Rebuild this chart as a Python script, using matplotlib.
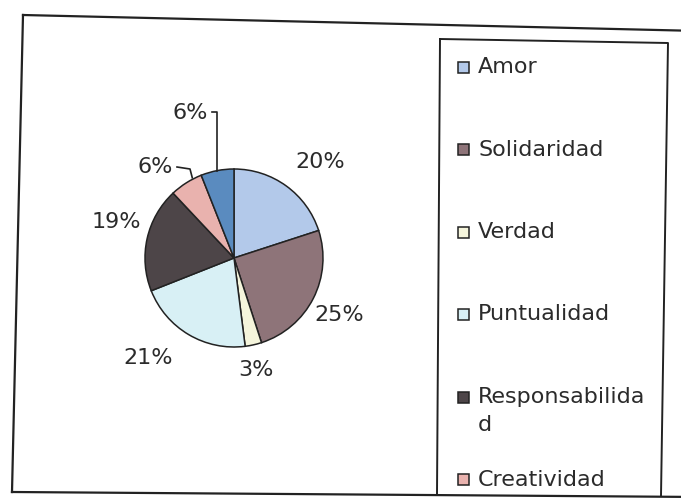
""" Pie chart of values (Amor, Solidaridad, ...) with an Excel-like side legend. """
import numpy as np
import matplotlib.pyplot as plt
from matplotlib.patches import Rectangle

plt.rcParams['font.family'] = ['DejaVu Sans']

# data
categories = ['Amor', 'Solidaridad', 'Verdad', 'Puntualidad',
              'Responsabilidad', 'Creatividad', 'Otro']
percentages = [20, 25, 3, 21, 19, 6, 6]
colors = ['#b3c9ea', '#8e7479', '#f5f5dc', '#d8f0f5',
          '#4d4548', '#e9b2ae', '#5a8bbf']
# the scanned legend is cut after Creatividad
legend_count = 6

W, H = 681, 499
TEXT = '#2b2b2b'
EDGE = '#222222'

fig = plt.figure(figsize=(W / 100, H / 100), dpi=100)
# one axes in pixel coordinates, y pointing down like the picture
ax = fig.add_axes([0, 0, 1, 1])

cx, cy, radius = 234, 258, 89
# with the y axis flipped, increasing data angle runs clockwise on screen
wedges, _ = ax.pie(percentages, colors=colors, startangle=-90,
                   counterclock=True, center=(cx, cy), radius=radius,
                   wedgeprops={'edgecolor': EDGE, 'linewidth': 1.1})
ax.set_xlim(0, W)
ax.set_ylim(H, 0)
ax.set_aspect('auto')
ax.axis('off')

# Excel put its labels a little off the radial line, so nudge each one
label_nudge = [-6, -1.5, -1.6, -10, -4.4, 8.6, 6]   # degrees on screen
label_dist = [1.45, 1.34, 1.28, 1.48, 1.38, 1.35, 1.70]
for w, pct, nudge, dist in zip(wedges, percentages, label_nudge, label_dist):
    mid = np.deg2rad((w.theta1 + w.theta2) / 2 - nudge)
    lx = cx + dist * radius * np.cos(mid)
    ly = cy + dist * radius * np.sin(mid)
    ax.text(lx, ly, f'{pct}%', ha='center', va='center',
            fontsize=16, color=TEXT)

# leader lines for the two small slices at the top
for w, hook in zip(wedges[5:], [(177, 167, 190, 169), (212, 112, None, 112)]):
    mid = np.deg2rad((w.theta1 + w.theta2) / 2)
    ex = cx + radius * np.cos(mid)
    ey = cy + radius * np.sin(mid)
    x0, y0, x1, y1 = hook
    if x1 is None:
        ax.plot([x0, ex, ex], [y0, y1, ey], color=EDGE, lw=1.2)
    else:
        ax.plot([x0, x1, ex + 6], [y0, y1, ey - 5], color=EDGE, lw=1.2)

# outer chart frame and legend box (slightly skewed, as in the scan)
ax.plot([23, 700], [15, 31], color=EDGE, lw=1.6)
ax.plot([23, 12], [15, 492], color=EDGE, lw=1.6)
ax.plot([12, 700], [492, 497], color=EDGE, lw=1.6)
ax.plot([440, 668, 661], [39, 43, 496], color=EDGE, lw=1.4)
ax.plot([440, 437], [39, 494], color=EDGE, lw=1.4)

# legend entries
for i in range(legend_count):
    y = 67 + 82.5 * i
    ax.add_patch(Rectangle((458, y - 5.5), 11, 11, facecolor=colors[i],
                           edgecolor=EDGE, lw=1.1))
    name = categories[i]
    if len(name) > 14:
        # the legend wraps long names at its box width
        ax.text(478, y, name[:14], ha='left', va='center',
                fontsize=16, color=TEXT)
        ax.text(478, y + 28, name[14:], ha='left', va='center',
                fontsize=16, color=TEXT)
    else:
        ax.text(478, y, name, ha='left', va='center',
                fontsize=16, color=TEXT)

fig.savefig('out.png', dpi=100)
